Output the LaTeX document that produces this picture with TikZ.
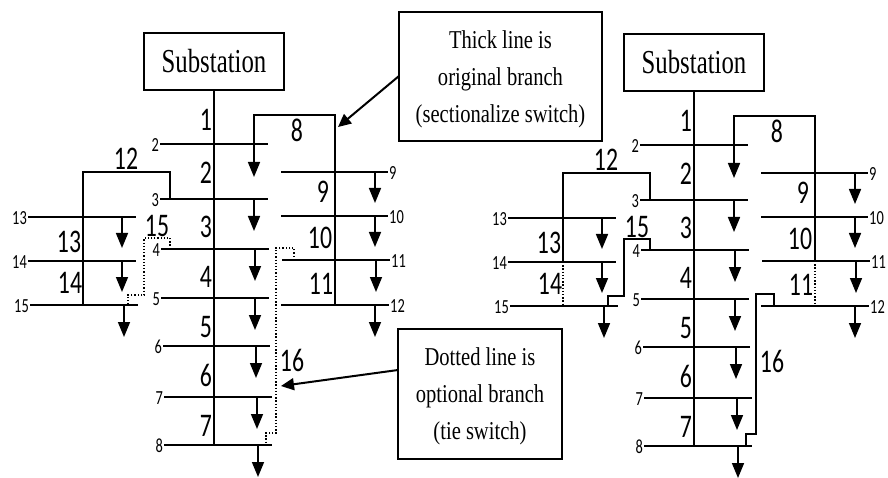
\documentclass[tikz,border=0pt]{standalone}
\usepackage{fontspec}
\usetikzlibrary{arrows.meta}
\setmainfont{Liberation Serif}
\newfontfamily\numfont[FakeStretch=0.72]{Carlito}
\newfontfamily\boxfont[FakeStretch=0.8]{Liberation Serif}
\newfontfamily\subfont[FakeStretch=0.74]{Liberation Serif}
\tikzset{
	busline/.style={line width=1.8pt},
	linkline/.style={line width=1.4pt},
	tieline/.style={line width=1.1pt, dash pattern=on 1.3pt off 1.9pt},
	loadarrow/.style={line width=1.6pt, -{Triangle[length=15pt,width=12pt]}},
	notearrow/.style={line width=2pt, -{Triangle[length=13pt,width=12pt]}},
	branchnum/.style={inner sep=0pt, font=\numfont\fontsize{33}{33}\selectfont},
	busnum/.style={inner sep=0pt, font=\numfont\fontsize{20}{20}\selectfont},
	subbox/.style={draw, line width=1.4pt, minimum width=140pt, minimum height=57pt, inner sep=0pt, font=\subfont\fontsize{33.5}{33.5}\selectfont},
	notebox/.style={draw, line width=1.4pt, align=center, inner sep=0pt, font=\boxfont\fontsize{25.7}{37}\selectfont}
}
% buses, branch numbers and load arrows shared by both feeders
\newcommand{\feedernet}{
	\node[subbox] (sub) at (214,61.5) {Substation};
	\foreach \n/\w/\e/\y/\ax/\tip in {2/160/268/144/254/177, 3/160/268/199/254/231, 4/161/269/249/255/281,
		5/161/269/298/255/330, 6/163/270/346/256/378, 7/164/272/397/257/429, 8/164/272/445/258/477,
		9/281/388/172/375/203, 10/281/388/216/375/247, 11/282/390/260/376/292, 12/281/389/305/375/337,
		13/28/136/217/122/248, 14/28/136/261/122/292, 15/30/138/305/124/337}{
		\coordinate (w\n) at (\w,\y);
		\coordinate (e\n) at (\e,\y);
		\coordinate (a\n) at (\ax,\y);
		\coordinate (t\n) at (\ax,\tip);
		\draw[busline] (w\n) -- (e\n);
		\draw[loadarrow] (a\n) -- (t\n);
	}
	\foreach \n in {2,...,8,13,14,15}{
		\node[busnum, anchor=east] (n\n) at ([xshift=-1pt,yshift=-1pt]w\n) {\n};
	}
	\foreach \n in {9,...,12}{
		\node[busnum, anchor=west] (n\n) at ([xshift=1pt,yshift=-1pt]e\n) {\n};
	}
	\foreach \n/\x/\y in {1/206/120, 2/206/173, 3/206/227, 4/206/277, 5/206/327, 6/206/375, 7/206/426,
		8/297/130, 9/323/192, 10/320/238, 11/321/284, 12/126/159, 13/69/242, 14/70/283, 15/157/226, 16/292/360}{
		\node[branchnum] (k\n) at (\x,\y) {\n};
	}
	\coordinate (m8) at (214,445);
	\draw[linkline] (sub) -- (m8);
	% branch 8
	\coordinate (p8) at (254,115);
	\coordinate (q8) at (335,115);
	\coordinate (r8) at (335,260);
	\coordinate (s8) at (335,305);
	\draw[linkline] (a2) -- (p8) -- (q8) -- (r8);
	% branch 12
	\coordinate (j3) at (170,199);
	\coordinate (p12) at (170,172);
	\coordinate (q12) at (83,172);
	\coordinate (r12) at (83,261);
	\coordinate (s12) at (83,305);
	\draw[linkline] (j3) -- (p12) -- (q12) -- (r12);
	% branch 15
	\coordinate (j4) at (170,249);
	\coordinate (p15) at (170,238);
	\coordinate (q15) at (144,238);
	\coordinate (r15) at (144,295);
	\coordinate (u15) at (128,295);
	\coordinate (v15) at (128,305);
}

\begin{document}
\begin{tikzpicture}[x=1pt, y=-1pt]
	\useasboundingbox (0,0) rectangle (888,478);

	\begin{scope}[name prefix=L-]
		\feedernet
		\draw[linkline] (r8) -- (s8);
		\draw[linkline] (r12) -- (s12);
		\draw[tieline] (j4) -- (p15) -- (q15) -- (r15) -- (u15) -- (v15);
		\coordinate (a16) at (294,260);
		\coordinate (b16) at (294,248);
		\coordinate (c16) at (276,248);
		\coordinate (d16) at (276,433);
		\coordinate (f16) at (266,433);
		\coordinate (g16) at (266,445);
		\draw[tieline] (a16) -- (b16) -- (c16) -- (d16) -- (f16) -- (g16);
	\end{scope}

	\begin{scope}[shift={(480,1)}, name prefix=R-]
		\feedernet
		\draw[tieline] (r8) -- (s8);
		\draw[tieline] (r12) -- (s12);
		\draw[linkline] (j4) -- (p15) -- (q15) -- (r15) -- (u15) -- (v15);
		\coordinate (a16) at (294,305);
		\coordinate (b16) at (294,293);
		\coordinate (c16) at (276,293);
		\coordinate (d16) at (276,433);
		\coordinate (f16) at (266,433);
		\coordinate (g16) at (266,445);
		\draw[linkline] (a16) -- (b16) -- (c16) -- (d16) -- (f16) -- (g16);
	\end{scope}

	\node[notebox, minimum width=203pt, minimum height=129pt] (thick) at (500.5,76.5) {\rule{0pt}{24pt}Thick line is\\original branch\\(sectionalize switch)};
	\node[notebox, minimum width=164pt, minimum height=130pt] (dotted) at (480,394) {\rule{0pt}{22pt}Dotted line is\\optional branch\\(tie switch)};
	\coordinate (thicktip) at (338,127);
	\coordinate (thickfoot) at (399,76);
	\coordinate (dottedtip) at (281,386);
	\coordinate (dottedfoot) at (398,370);
	\draw[notearrow] (thickfoot) -- (thicktip);
	\draw[notearrow] (dottedfoot) -- (dottedtip);
\end{tikzpicture}
\end{document}
